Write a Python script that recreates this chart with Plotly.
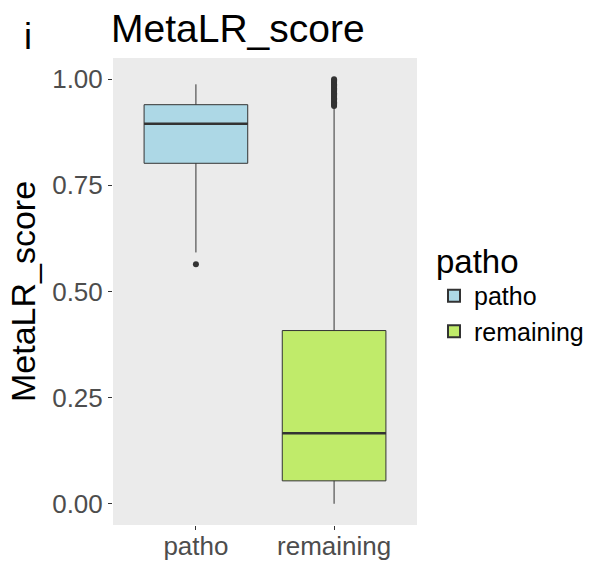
import plotly.graph_objects as go

categories = ["patho", "remaining"]
q1 = [0.802, 0.054]
median = [0.895, 0.166]
q3 = [0.940, 0.408]
lower_whisker = [0.592, 0.0]
upper_whisker = [0.988, 0.934]
fill_colors = ["#ADD8E6", "#C0EB6A"]

outliers_patho = [0.564]
outliers_remaining = [0.937, 0.940, 0.943, 0.946, 0.949, 0.952, 0.955, 0.958, 0.961,
                      0.964, 0.967, 0.970, 0.973, 0.976, 0.979, 0.982, 0.985, 0.988,
                      0.991, 0.994, 0.997, 1.0]
outliers = [outliers_patho, outliers_remaining]

yticks = [0.0, 0.25, 0.5, 0.75, 1.0]
ytick_labels = ["0.00", "0.25", "0.50", "0.75", "1.00"]

FONT = "Liberation Sans, Arial, sans-serif"
BW = 0.75
W, H = 603, 564
ML, MR, MT, MB = 113, 186, 58, 39
PW, PH = W - ML - MR, H - MT - MB

fig = go.Figure()
for i, cat in enumerate(categories):
    fig.add_trace(go.Box(
        x=[i], q1=[q1[i]], median=[median[i]], q3=[q3[i]],
        lowerfence=[lower_whisker[i]], upperfence=[upper_whisker[i]],
        name=cat, fillcolor=fill_colors[i],
        line=dict(color="#333333", width=1), whiskerwidth=0,
        width=BW, boxpoints=False, showlegend=True,
    ))
for i, cat in enumerate(categories):
    fig.add_trace(go.Scatter(
        x=[i - BW / 2, i + BW / 2], y=[median[i], median[i]], mode="lines",
        line=dict(color="#333333", width=2.5), showlegend=False, hoverinfo="skip",
    ))
    fig.add_trace(go.Scatter(
        x=[i] * len(outliers[i]), y=outliers[i], mode="markers",
        marker=dict(color="#333333", size=6), showlegend=False,
    ))

fig.update_layout(
    width=W, height=H,
    margin=dict(l=ML, r=MR, t=MT, b=MB),
    paper_bgcolor="white", plot_bgcolor="#EBEBEB",
    font=dict(family=FONT, color="black"),
    title=dict(text="MetaLR_score", x=111 / W, xanchor="left", y=1 - 28 / H,
               yanchor="middle", font=dict(size=39, color="black")),
    legend=dict(title=dict(text="patho", font=dict(size=33)),
                font=dict(size=25), x=(434 - ML) / PW, xanchor="left",
                y=(H - MB - 292) / PH, yanchor="middle",
                bgcolor="rgba(0,0,0,0)", tracegroupgap=0, itemsizing="constant",
                itemwidth=30),
    annotations=[dict(text="i", x=(28 - ML) / PW, y=(H - MB - 36) / PH,
                      xref="paper", yref="paper",
                      showarrow=False, font=dict(size=36, color="black"),
                      xanchor="center", yanchor="middle")],
)
fig.update_xaxes(range=[-0.6, 1.6], tickvals=[0, 1], ticktext=categories,
                 showgrid=False, zeroline=False, ticks="outside", ticklen=4,
                 tickcolor="#333333", automargin=False, ticklabelstandoff=-6,
                 tickfont=dict(size=26, color="#4D4D4D"))
fig.update_yaxes(range=[-0.05, 1.05], tickvals=yticks, ticktext=ytick_labels,
                 showgrid=False, zeroline=False, ticks="outside", ticklen=4,
                 tickcolor="#333333", automargin=False,
                 tickfont=dict(size=26, color="#4D4D4D"),
                 title=dict(text="MetaLR_score", font=dict(size=34, color="black"),
                            standoff=6))
fig.write_html("out.html")
